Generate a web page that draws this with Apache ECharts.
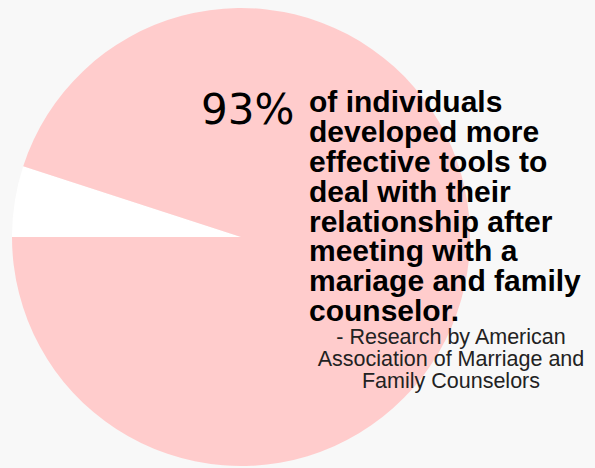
<!DOCTYPE html>
<html>
<head>
<meta charset="utf-8">
<script src="https://cdn.jsdelivr.net/npm/echarts@6/dist/echarts.min.js"></script>
<style>
html,body{margin:0;padding:0;background:#f8f8f8;}
#c{width:595px;height:468px;}
</style>
</head>
<body>
<div id="c"></div>
<script>
const categories = ["Other", "Developed more effective tools"];
const values = [5, 95];
const sliceColors = ["#ffffff", "#ffcccc"];
const bigLabel = "93%";
const statementLines = [
  "of individuals",
  "developed more",
  "effective tools to",
  "deal with their",
  "relationship after",
  "meeting with a",
  "mariage and family",
  "counselor."
];
const sourceLines = [
  "- Research by American",
  "Association of Marriage and",
  "Family Counselors"
];

const chart = echarts.init(document.getElementById('c'), null, {renderer: 'svg'});
chart.setOption({
  backgroundColor: '#f8f8f8',
  animation: false,
  series: [{
    type: 'pie',
    z: 1,
    center: [241, 237],
    radius: [0, 229],
    startAngle: 180,
    clockwise: true,
    label: {show: false},
    labelLine: {show: false},
    silent: true,
    itemStyle: {borderWidth: 0},
    data: categories.map((n, i) => ({name: n, value: values[i], itemStyle: {color: sliceColors[i]}}))
  }],
  graphic: {
    elements: [
      {
        type: 'text', x: 201, y: 88, z: 100,
        style: {text: bigLabel, fontFamily: 'DejaVu Sans', fontSize: 42, fill: '#000'}
      },
      {
        type: 'text', x: 309, y: 87, z: 100,
        style: {text: statementLines.join('\n'), fontFamily: 'Liberation Sans', fontWeight: 'bold',
                fontSize: 30, lineHeight: 29.8, fill: '#000'}
      },
      {
        type: 'text', x: 451, y: 326, z: 100,
        style: {text: sourceLines.join('\n'), fontFamily: 'Liberation Sans', fontSize: 21.5,
                lineHeight: 22, fill: '#222', align: 'center'}
      }
    ]
  }
});
</script>
</body>
</html>
